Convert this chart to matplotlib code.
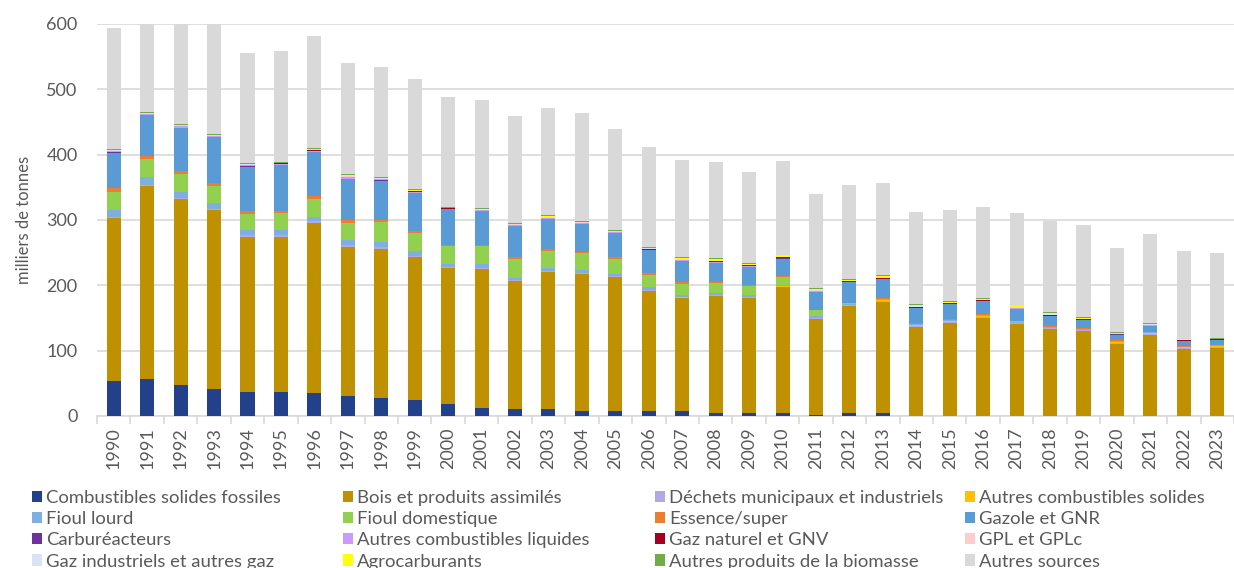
import matplotlib.pyplot as plt
import numpy as np

years = list(range(1990, 2024))

# stacked from bottom to top (milliers de tonnes)
csf = [54, 56, 48, 41, 37, 36, 35, 30, 27, 24, 19, 13, 10, 11, 7, 8, 7, 7, 5, 4, 4, 1, 4, 4,
       0.5, 0.5, 0.5, 0.5, 0.5, 0.5, 0.5, 0.5, 0.5, 0.5]
bois = [249, 296, 284, 274, 237, 238, 261, 229, 229, 219, 207, 212, 196, 210, 211, 205, 185, 173,
        179, 177, 193, 148, 164, 171, 136, 142, 150, 140, 133, 130, 110, 124, 102, 104]
dechets = [2, 2, 2, 2, 2.5, 2.5, 2, 2, 2.5, 1.5, 1.5, 1.5, 1.5, 1, 1, 1, 1, 1, 1, 1, 1, 1,
           1.5, 1.5, 1.5, 1.5, 1.5, 1.5, 1, 1, 1.5, 1.5, 1.5, 1.5]
autres_solides = [0.3, 0.3, 0.3, 0.3, 0.3, 0.3, 0.3, 0.3, 0.3, 0.3, 0.3, 0.3, 0.3, 0.3, 0.3, 0.3,
                  0.5, 0.5, 0.5, 0.5, 0.5, 0.5, 1, 1, 1, 1, 1, 1, 0.8, 0.8, 1, 1, 1, 1]
fioul_lourd = [10, 11, 9, 8, 7.5, 7.5, 7, 8.5, 7, 7, 5, 5.5, 3.5, 4.5, 3.5, 3, 4, 4, 3, 3, 2,
               2.5, 1.5, 1.5, 1.5, 1.5, 1.5, 1.5, 1, 1, 1.5, 1, 1, 1]
fioul_dom = [27, 27.5, 27, 27, 25.5, 26.5, 27.5, 26, 30.5, 29, 27, 27.5, 29, 26.5, 26, 23, 19,
             17, 15, 14, 13, 8.5, 0.4, 0.4, 0.4, 0.4, 0.4, 0.4, 0.3, 0.3, 0.3, 0.3, 0.3, 0.3]
essence = [6, 5, 5, 5, 4, 3.5, 3.5, 3.5, 3, 2.5, 2.5, 2, 2.5, 2, 2, 2.5, 2, 2, 2, 1, 1, 1, 1,
           1, 1, 1, 1, 1, 0.8, 0.8, 0.8, 0.8, 0.8, 1]
gazole = [55, 63, 66, 69, 68, 70, 68, 64, 61, 58, 54, 51.5, 48, 46, 43, 37, 35, 33, 29, 28,
          26.5, 27.5, 31, 29, 23, 23, 19.5, 18, 15, 12, 9, 8.5, 7.5, 6.5]
carbureacteurs = [0.2] * 34
autres_liquides = [1.5, 1.5, 1.8, 1.8, 1.5, 1.5, 1.8, 1.8, 1.5, 1.5, 1, 1.2, 1.2, 1.2, 1, 1,
                   1, 1, 1, 1, 1, 0.8, 0.8, 0.8, 0.8, 0.8, 0.8, 0.8, 0.8, 0.8, 0.6, 0.8, 0.5, 0.5]
gaz_naturel = [0.5, 0.5, 0.6, 0.6, 0.6, 0.6, 1, 1, 0.6, 0.8, 0.4, 0.6, 0.6, 0.8, 0.8, 0.8, 0.8,
               0.8, 0.8, 0.8, 0.8, 0.8, 0.8, 0.8, 0.8, 0.8, 0.8, 0.8, 1, 0.8, 0.6, 0.8, 0.6, 0.6]
gpl = [0.8, 0.7, 0.8, 0.8, 0.7, 0.7, 1, 1, 0.7, 0.8, 0.5, 0.7, 0.7, 0.8, 0.6, 0.6, 0.6, 0.6,
       0.6, 0.6, 0.6, 0.6, 0.6, 0.6, 0.6, 0.5, 0.5, 0.5, 0.6, 0.5, 0.4, 0.5, 0.4, 0.4]
gaz_industriels = [0.5, 0.4, 0.5, 0.5, 0.4, 0.4, 0.6, 0.6, 0.4, 0.5, 0.3, 0.4, 0.4, 0.5, 0.3,
                   0.3, 0.4, 0.4, 0.4, 0.4, 0.4, 0.4, 0.4, 0.4, 0.4, 0.3, 0.3, 0.3, 0.4, 0.3,
                   0.3, 0.3, 0.2, 0.2]
agrocarburants = [0, 0, 0, 0, 0, 0, 0.3, 0.5, 0.3, 0.6, 0.2, 0.4, 0.4, 0.6, 0.4, 0.8, 1.2,
                  1.6, 2.2, 1.6, 2, 1.6, 1.6, 2, 1.8, 1.5, 1.4, 1.4, 1.8, 1.4, 1, 1.2, 0.7, 0.7]
biomasse = [1.5, 1.3, 1.7, 1.7, 1.6, 1.6, 1.7, 1.5, 1.5, 1.6, 0.9, 1.5, 1.5, 1.5, 1.3, 1.3,
            1.4, 1.4, 1.4, 1, 1, 1.2, 1.2, 1.2, 1.2, 1.2, 1.2, 1.2, 1.4, 1, 0.5, 1, 0.4, 0.4]
autres_sources = [185, 170, 170, 170, 169, 169, 170, 171, 169, 169, 168, 165, 164, 165, 165,
                  155, 153, 148, 147, 140, 144, 144, 144, 141, 141, 139, 140, 142, 140, 141.5,
                  128.5, 136.7, 135, 130]

series = [
    ("Combustibles solides fossiles", csf, "#22418A"),
    ("Bois et produits assimilés", bois, "#BF9000"),
    ("Déchets municipaux et industriels", dechets, "#B4A7E5"),
    ("Autres combustibles solides", autres_solides, "#FFC000"),
    ("Fioul lourd", fioul_lourd, "#7FAFDF"),
    ("Fioul domestique", fioul_dom, "#92D050"),
    ("Essence/super", essence, "#ED7D31"),
    ("Gazole et GNR", gazole, "#5B9BD5"),
    ("Carburéacteurs", carbureacteurs, "#7030A0"),
    ("Autres combustibles liquides", autres_liquides, "#CC99FF"),
    ("Gaz naturel et GNV", gaz_naturel, "#A50021"),
    ("GPL et GPLc", gpl, "#FFCCCC"),
    ("Gaz industriels et autres gaz", gaz_industriels, "#DAE3F3"),
    ("Agrocarburants", agrocarburants, "#FFFF00"),
    ("Autres produits de la biomasse", biomasse, "#70AD47"),
    ("Autres sources", autres_sources, "#D9D9D9"),
]

plt.rcParams['font.family'] = ['Lato', 'DejaVu Sans']
txt = "#595959"

fig = plt.figure(figsize=(12.34, 5.68), dpi=100)
ax = fig.add_axes([97 / 1234, 1 - 416 / 568, 1 - 97 / 1234, (416 - 24) / 568])

x = np.arange(len(years))
bottom = np.zeros(len(years))
handles = {}
for name, vals, col in series:
    vals = np.array(vals, dtype=float)
    h = ax.bar(x, vals, 0.42, bottom=bottom, color=col, linewidth=0, zorder=3)
    handles[name] = h
    bottom += vals

ax.set_ylim(0, 600)
ax.set_xlim(-0.47, 33.21)
ax.set_yticks(range(0, 601, 100))
ax.yaxis.grid(True, color="#D9D9D9", linewidth=1.2, zorder=0)
ax.set_axisbelow(True)
for s in ["top", "right", "left"]:
    ax.spines[s].set_visible(False)
ax.spines["bottom"].set_color("#D9D9D9")
ax.spines["bottom"].set_linewidth(1.2)

ax.set_xticks(x)
ax.set_xticklabels([str(y) for y in years], rotation=90, fontsize=13, color=txt)
ax.tick_params(axis="x", length=0, pad=8)
ax.set_xticks(np.arange(-0.5, len(years), 1), minor=True)
ax.tick_params(axis="x", which="minor", length=6, color="#D9D9D9", width=1.2)
ax.tick_params(axis="y", length=0, labelsize=13, labelcolor=txt, pad=14)
ax.set_ylabel("milliers de tonnes", fontsize=12, color=txt, labelpad=10)

names = [s[0] for s in series]
cols_x = [32 / 1234, 343 / 1234, 655 / 1234, 965 / 1234]
for c in range(4):
    group = names[c::4]
    fig.legend([handles[n] for n in group], group, loc="upper left",
               bbox_to_anchor=(cols_x[c], 1 - 490 / 568), frameon=False, ncol=1,
               fontsize=13.3, labelcolor=txt, handlelength=0.55, handleheight=0.55,
               handletextpad=0.22, labelspacing=0.28, borderaxespad=0, borderpad=0)

fig.savefig("out.png", dpi=100)
